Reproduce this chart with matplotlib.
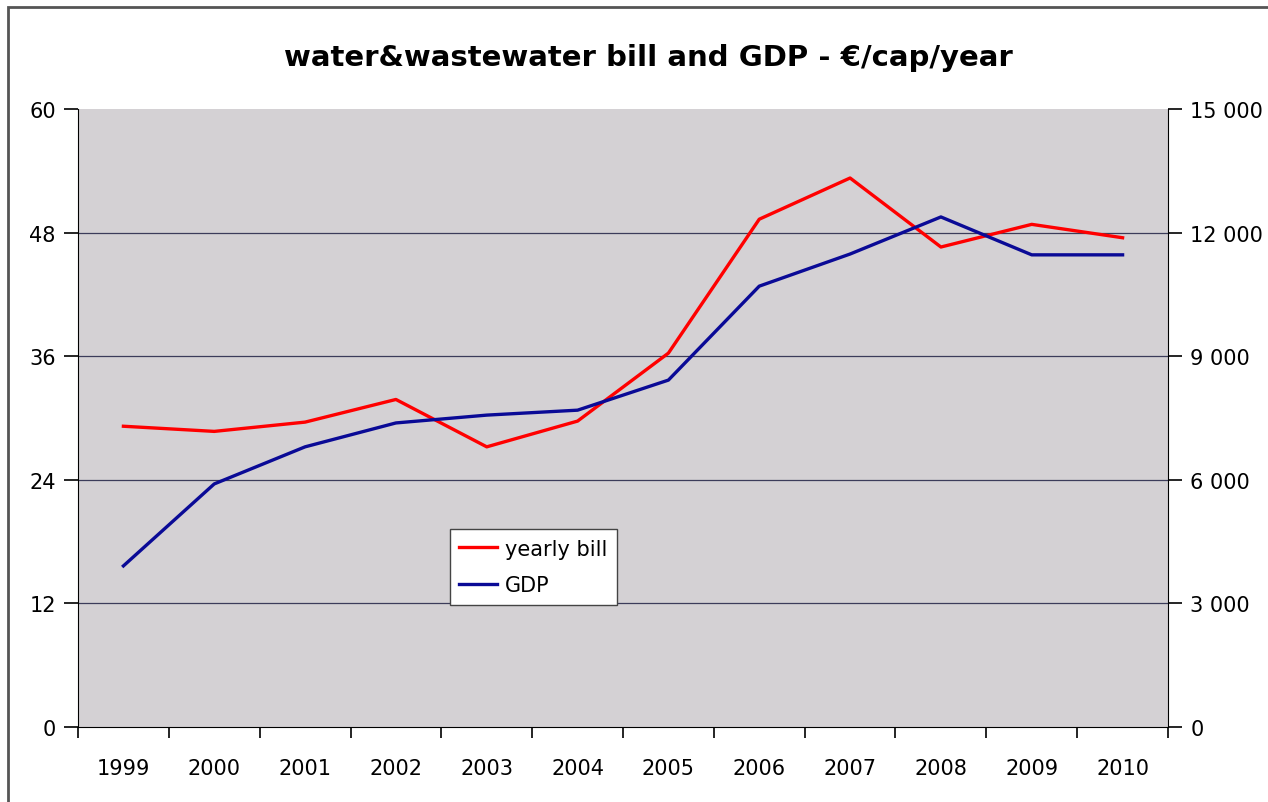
import numpy as np
import matplotlib
matplotlib.use("Agg")
import matplotlib.pyplot as plt
from matplotlib.patches import Rectangle
from matplotlib.ticker import FuncFormatter

years = ["1999", "2000", "2001", "2002", "2003", "2004",
         "2005", "2006", "2007", "2008", "2009", "2010"]
bill = [29.2, 28.7, 29.6, 31.8, 27.2, 29.7, 36.3, 49.3, 53.3, 46.6, 48.8, 47.5]
gdp = [3910, 5900, 6800, 7380, 7570, 7690, 8420, 10700, 11480, 12380, 11460, 11460]

fig = plt.figure(figsize=(12.68, 8.03), dpi=100)
fig.patches.append(Rectangle((8 / 1268, -0.01), 1.02, 1 - 8 / 803 + 0.01,
                             transform=fig.transFigure, fill=False,
                             edgecolor="#555555", linewidth=2))

ax = fig.add_axes([78 / 1268, 1 - 728 / 803, 1090 / 1268, 618 / 803])
ax.set_facecolor("#d4d1d4")
x = np.arange(len(years))

ax.set_xlim(-0.5, len(years) - 0.5)
ax.set_ylim(0, 60)
ax.set_yticks([0, 12, 24, 36, 48, 60])
for v in [12, 24, 36, 48]:
    ax.axhline(v, color="#3c3c5a", linewidth=0.9, zorder=1)

ax.set_xticks(np.arange(len(years) + 1) - 0.5)
ax.set_xticklabels([])
ax.set_xticks(x, minor=True)
ax.set_xticklabels(years, minor=True)
ax.tick_params(axis="x", which="minor", length=0, pad=22, labelsize=15)
ax.tick_params(axis="x", which="major", length=8, width=1.2, direction="out")
ax.tick_params(axis="y", length=10, width=1.2, direction="out", labelsize=15, pad=6)

for s in ["top", "right"]:
    ax.spines[s].set_visible(False)
ax.spines["left"].set_color("black")
ax.spines["bottom"].set_color("black")

ax2 = ax.twinx()
ax2.set_ylim(0, 15000)
ax2.set_yticks([0, 3000, 6000, 9000, 12000, 15000])
ax2.yaxis.set_major_formatter(FuncFormatter(lambda v, p: f"{int(v):,}".replace(",", " ")))
ax2.tick_params(axis="y", length=10, width=1.2, direction="out", labelsize=15, pad=6)
for s in ["top", "left", "bottom"]:
    ax2.spines[s].set_visible(False)
ax2.spines["right"].set_color("black")

l1, = ax.plot(x, bill, color="#ff0000", linewidth=2.4, zorder=3, label="yearly bill")
l2, = ax2.plot(x, gdp, color="#0a0a96", linewidth=2.4, zorder=3, label="GDP")

leg = ax.legend([l1, l2], ["yearly bill", "GDP"], loc="upper left",
                bbox_to_anchor=(0.341, 0.320), fontsize=15, frameon=True,
                fancybox=False, framealpha=1, edgecolor="#444444",
                handlelength=1.8, handletextpad=0.4, borderpad=0.45,
                labelspacing=0.8, borderaxespad=0)
leg.get_frame().set_linewidth(1.0)
leg.set_zorder(10)

fig.text(648 / 1268, 1 - 58 / 803, "water&wastewater bill and GDP - €/cap/year",
         ha="center", va="center", fontsize=21, fontweight="bold")

fig.savefig("out.png", dpi=100)
